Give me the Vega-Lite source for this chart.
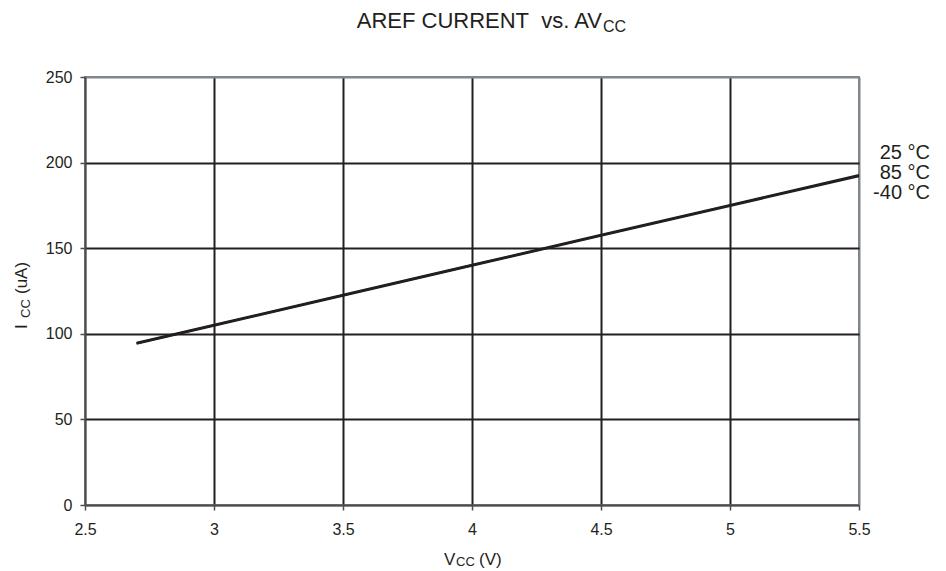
{
  "$schema": "https://vega.github.io/schema/vega-lite/v6.json",
  "width": 774,
  "height": 428,
  "autosize": {"type": "none"},
  "padding": {"left": 85, "top": 77, "right": 87, "bottom": 66},
  "background": "white",
  "config": {
    "font": "Liberation Sans",
    "view": {"stroke": "#7f868c", "strokeWidth": 2},
    "axis": {
      "domainColor": "#4d4d4f",
      "domainWidth": 2,
      "tickColor": "#4d4d4f",
      "tickWidth": 1.5,
      "tickSize": 5,
      "labelFont": "Liberation Sans",
      "labelFontSize": 16,
      "labelColor": "#231f20",
      "labelFlush": false,
      "gridWidth": 2,
      "title": null
    }
  },
  "datasets": {
    "curves": [
      {"vcc": 2.7, "icc": 94.8, "temp": "25 °C"},
      {"vcc": 3.0, "icc": 105.3, "temp": "25 °C"},
      {"vcc": 3.5, "icc": 122.8, "temp": "25 °C"},
      {"vcc": 4.0, "icc": 140.3, "temp": "25 °C"},
      {"vcc": 4.5, "icc": 157.8, "temp": "25 °C"},
      {"vcc": 5.0, "icc": 175.3, "temp": "25 °C"},
      {"vcc": 5.5, "icc": 192.8, "temp": "25 °C"},
      {"vcc": 2.7, "icc": 94.5, "temp": "85 °C"},
      {"vcc": 3.0, "icc": 105.0, "temp": "85 °C"},
      {"vcc": 3.5, "icc": 122.5, "temp": "85 °C"},
      {"vcc": 4.0, "icc": 140.0, "temp": "85 °C"},
      {"vcc": 4.5, "icc": 157.5, "temp": "85 °C"},
      {"vcc": 5.0, "icc": 175.0, "temp": "85 °C"},
      {"vcc": 5.5, "icc": 192.4, "temp": "85 °C"},
      {"vcc": 2.7, "icc": 94.2, "temp": "-40 °C"},
      {"vcc": 3.0, "icc": 104.7, "temp": "-40 °C"},
      {"vcc": 3.5, "icc": 122.2, "temp": "-40 °C"},
      {"vcc": 4.0, "icc": 139.7, "temp": "-40 °C"},
      {"vcc": 4.5, "icc": 157.2, "temp": "-40 °C"},
      {"vcc": 5.0, "icc": 174.7, "temp": "-40 °C"},
      {"vcc": 5.5, "icc": 192.0, "temp": "-40 °C"}
    ],
    "labels": [
      {"temp": "25 °C", "vcc": 5.5, "icc": 202.1},
      {"temp": "85 °C", "vcc": 5.5, "icc": 190.2},
      {"temp": "-40 °C", "vcc": 5.5, "icc": 178.5}
    ]
  },
  "layer": [
    {
      "data": {"name": "curves"},
      "mark": {"type": "line", "color": "#231f20", "strokeWidth": 2},
      "encoding": {
        "x": {
          "field": "vcc",
          "type": "quantitative",
          "scale": {"domain": [2.5, 5.5], "nice": false, "zero": false},
          "axis": {
            "values": [2.5, 3, 3.5, 4, 4.5, 5, 5.5],
            "format": "~g",
            "labelPadding": 11,
            "gridColor": {
              "condition": {"test": "datum.value === 2.5 || datum.value === 5.5", "value": "#7f868c"},
              "value": "#231f20"
            }
          }
        },
        "y": {
          "field": "icc",
          "type": "quantitative",
          "scale": {"domain": [0, 250], "nice": false},
          "axis": {
            "values": [0, 50, 100, 150, 200, 250],
            "labelPadding": 8,
            "gridColor": {
              "condition": {"test": "datum.value === 0 || datum.value === 250", "value": "#7f868c"},
              "value": "#231f20"
            }
          }
        },
        "detail": {"field": "temp"}
      }
    },
    {
      "data": {"name": "labels"},
      "mark": {"type": "text", "align": "right", "baseline": "alphabetic", "dx": 71, "fontSize": 20, "color": "#231f20"},
      "encoding": {
        "x": {"field": "vcc", "type": "quantitative"},
        "y": {"field": "icc", "type": "quantitative"},
        "text": {"field": "temp"}
      }
    },
    {
      "data": {"values": [{"t": "AREF CURRENT\u00a0 vs. AV"}]},
      "mark": {"type": "text", "align": "right", "baseline": "alphabetic", "dx": 130, "dy": -49, "fontSize": 22, "color": "#231f20"},
      "encoding": {"x": {"datum": 4}, "y": {"datum": 250}, "text": {"field": "t"}}
    },
    {
      "data": {"values": [{"t": "CC"}]},
      "mark": {"type": "text", "align": "left", "baseline": "alphabetic", "dx": 131, "dy": -45, "fontSize": 16, "color": "#231f20"},
      "encoding": {"x": {"datum": 4}, "y": {"datum": 250}, "text": {"field": "t"}}
    },
    {
      "data": {"values": [{"t": "V"}]},
      "mark": {"type": "text", "align": "left", "baseline": "alphabetic", "dx": -28, "dy": 60, "fontSize": 17, "color": "#231f20"},
      "encoding": {"x": {"datum": 4}, "y": {"datum": 0}, "text": {"field": "t"}}
    },
    {
      "data": {"values": [{"t": "CC"}]},
      "mark": {"type": "text", "align": "left", "baseline": "alphabetic", "dx": -16, "dy": 61, "fontSize": 13, "color": "#231f20"},
      "encoding": {"x": {"datum": 4}, "y": {"datum": 0}, "text": {"field": "t"}}
    },
    {
      "data": {"values": [{"t": "(V)"}]},
      "mark": {"type": "text", "align": "left", "baseline": "alphabetic", "dx": 7, "dy": 60, "fontSize": 17, "color": "#231f20"},
      "encoding": {"x": {"datum": 4}, "y": {"datum": 0}, "text": {"field": "t"}}
    },
    {
      "data": {"values": [{"t": "I"}]},
      "mark": {"type": "text", "align": "left", "baseline": "alphabetic", "angle": 270, "dx": -38, "dy": -58, "fontSize": 17, "color": "#231f20"},
      "encoding": {"x": {"datum": 2.5}, "y": {"datum": 125}, "text": {"field": "t"}}
    },
    {
      "data": {"values": [{"t": "CC"}]},
      "mark": {"type": "text", "align": "left", "baseline": "alphabetic", "angle": 270, "dx": -27, "dy": -55, "fontSize": 13, "color": "#231f20"},
      "encoding": {"x": {"datum": 2.5}, "y": {"datum": 125}, "text": {"field": "t"}}
    },
    {
      "data": {"values": [{"t": "(uA)"}]},
      "mark": {"type": "text", "align": "left", "baseline": "alphabetic", "angle": 270, "dx": -3, "dy": -58, "fontSize": 17, "color": "#231f20"},
      "encoding": {"x": {"datum": 2.5}, "y": {"datum": 125}, "text": {"field": "t"}}
    }
  ]
}
